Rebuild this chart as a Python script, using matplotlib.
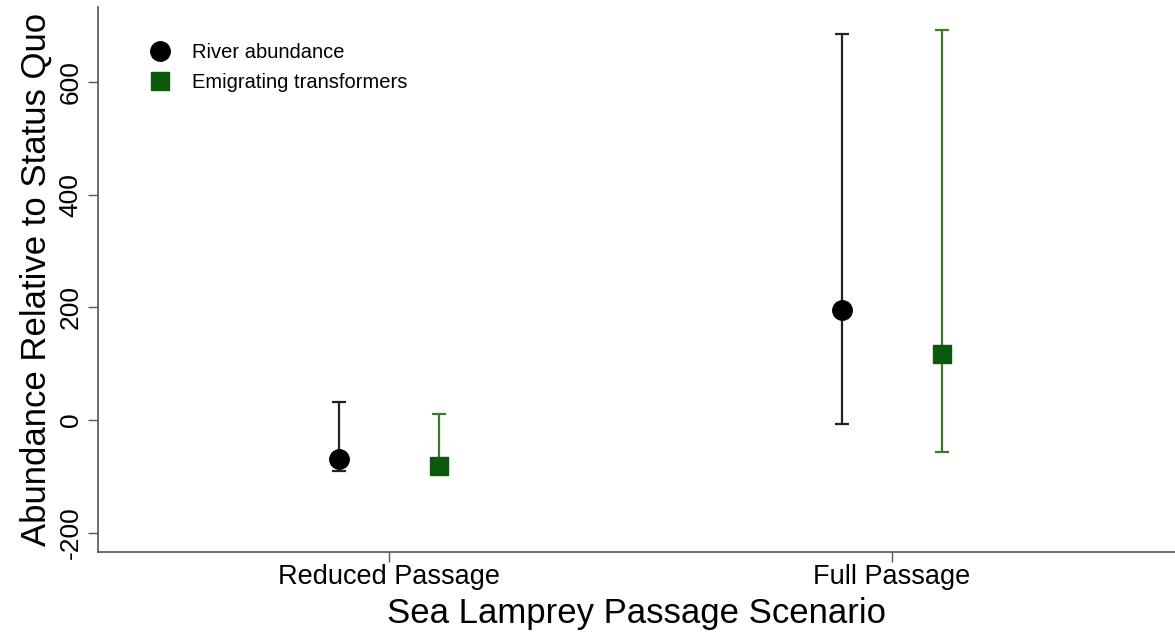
import numpy as np
import matplotlib.pyplot as plt

plt.rcParams['font.family'] = ['Liberation Sans', 'DejaVu Sans']

# datos
escenarios = ["Reduced Passage", "Full Passage"]
rio_media = [-69, 195]
rio_sup = [32, 685]
rio_inf = [-90, -7]
emig_media = [-82, 117]
emig_sup = [11, 692]
emig_inf = [-88, -57]

x = np.arange(1, len(escenarios) + 1)

fig = plt.figure(figsize=(11.75, 6.32), dpi=100)
ax = fig.add_axes([0.0834, 0.1266, 0.9166, 0.8624])

# barras de error de cada serie
err_rio = [np.array(rio_media) - np.array(rio_inf), np.array(rio_sup) - np.array(rio_media)]
err_emig = [np.array(emig_media) - np.array(emig_inf), np.array(emig_sup) - np.array(emig_media)]

ax.errorbar(x - 0.1, rio_media, yerr=err_rio, fmt='none', ecolor='#222222',
            elinewidth=1.6, capsize=5, capthick=1.6, zorder=2)
ax.errorbar(x + 0.1, emig_media, yerr=err_emig, fmt='none', ecolor='#3b7a2e',
            elinewidth=1.6, capsize=5, capthick=1.6, zorder=2)
ax.plot(x - 0.1, rio_media, 'o', color='black', markersize=14, label='River abundance', zorder=3)
ax.plot(x + 0.1, emig_media, 's', color='#0b5a0b', markersize=13, label='Emigrating transformers', zorder=3)

ax.set_xlim(0.4215, 2.5626)
ax.set_ylim(-234, 733)
ax.set_xticks(x)
ax.set_xticklabels(escenarios, fontsize=19.5)
ax.set_yticks([-200, 0, 200, 400, 600])
ax.set_yticklabels(["-200", "0", "200", "400", "600"], fontsize=19, rotation=90, va='center')

ax.spines['top'].set_visible(False)
ax.spines['right'].set_visible(False)
for s in ['left', 'bottom']:
    ax.spines[s].set_color('#555555')
    ax.spines[s].set_linewidth(1.2)
ax.tick_params(axis='y', length=7, width=1.0, color='#555555', pad=4)
ax.tick_params(axis='x', length=7, width=1.0, color='#555555', pad=2)

ax.set_xlabel("Sea Lamprey Passage Scenario", fontsize=25, labelpad=5)
ax.set_ylabel("Abundance Relative to Status Quo", fontsize=25, labelpad=4)

ax.legend(loc='upper left', frameon=False, fontsize=14.5, bbox_to_anchor=(0.022, 0.967),
          handletextpad=0.6, labelspacing=0.55)

plt.savefig("out.png", dpi=100)
